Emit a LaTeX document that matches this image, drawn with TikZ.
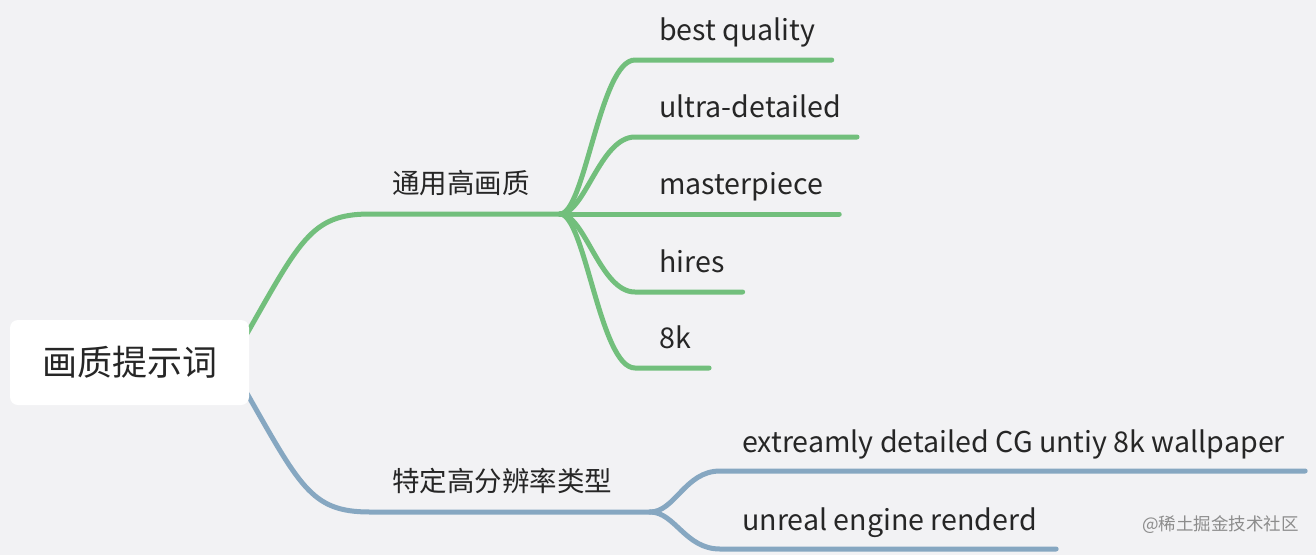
\documentclass[tikz,border=0pt]{standalone}
\usepackage{fontspec}
\setmainfont{Noto Sans CJK SC}
\usetikzlibrary{calc,backgrounds}
\definecolor{bgc}{HTML}{F2F2F4}
\definecolor{grn}{HTML}{72BF7C}
\definecolor{blu}{HTML}{86A7C1}
\definecolor{txt}{HTML}{262626}
\tikzset{
  leaf/.style={anchor=base west, inner sep=0pt, text=txt, font=\fontsize{28.6}{32}\selectfont},
  branch/.style={leaf, font=\fontsize{27.5}{30}\selectfont},
  glink/.style={draw=grn, line width=5pt, line cap=round},
  blink/.style={draw=blu, line width=5pt, line cap=round},
}

\begin{document}
\begin{tikzpicture}[x=1pt,y=-1pt]
  \useasboundingbox (0,0) rectangle (1316,555);
  % root
  \node[fill=white, rounded corners=8pt, minimum width=239pt, minimum height=85pt,
        inner sep=0pt, text=txt, font=\fontsize{35}{40}\selectfont] (root) at (129.5,362.5) {画质提示词};
  % branches
  \node[branch] (gen) at (392,193) {通用高画质};
  \node[branch] (spec) at (392,491) {特定高分辨率类型};
  \coordinate (j1) at (560,214);
  \coordinate (j2) at (650,512);
  % leaves
  \node[leaf] (bq) at (659,40) {best quality};
  \node[leaf] (ud) at (659,117) {ultra-detailed};
  \node[leaf] (mp) at (659,194) {masterpiece};
  \node[leaf] (hr) at (659,272) {hires};
  \node[leaf] (ek) at (659,348) {8k};
  \node[leaf] (cg) at (742,452) {extreamly detailed CG untiy 8k wallpaper};
  \node[leaf] (ue) at (742,530) {unreal engine renderd};
  \node[anchor=east, inner sep=0pt, text=black!45, font=\fontsize{17.5}{20}\selectfont] (wm) at (1299,525) {@稀土掘金技术社区};

  \begin{pgfonlayer}{background}
    \fill[bgc] (0,0) rectangle (1316,555);
    \draw[glink] ($(root.east)+(-9,-17)$) .. controls +(60,-105) and +(-60,0) .. ($(gen.base west |- j1)+(-22,0)$) -- (j1);
    \draw[blink] ($(root.east)+(-9,19)$) .. controls +(60,105) and +(-60,0) .. ($(spec.base west |- j2)+(-22,0)$) -- (j2);
  \end{pgfonlayer}

  \draw[glink] (j1) .. controls +(25,0) and +(-35,0) .. ($(bq.base west)+(-24,20)$) -- ($(bq.base east)+(16,20)$);
  \draw[glink] (j1) .. controls +(25,0) and +(-35,0) .. ($(ud.base west)+(-24,20)$) -- ($(ud.base east)+(16,20)$);
  \draw[glink] (j1) -- ($(mp.base east)+(16,20)$);
  \draw[glink] (j1) .. controls +(25,0) and +(-35,0) .. ($(hr.base west)+(-24,20)$) -- ($(hr.base east)+(18,20)$);
  \draw[glink] (j1) .. controls +(25,0) and +(-35,0) .. ($(ek.base west)+(-24,20)$) -- ($(ek.base east)+(18,20)$);
  \draw[blink] (j2) .. controls +(25,0) and +(-35,0) .. ($(cg.base west)+(-22,19)$) -- ($(cg.base east)+(20,19)$);
  \draw[blink] (j2) .. controls +(25,0) and +(-35,0) .. ($(ue.base west)+(-22,19)$) -- ($(ue.base east)+(19,19)$);
\end{tikzpicture}
\end{document}
